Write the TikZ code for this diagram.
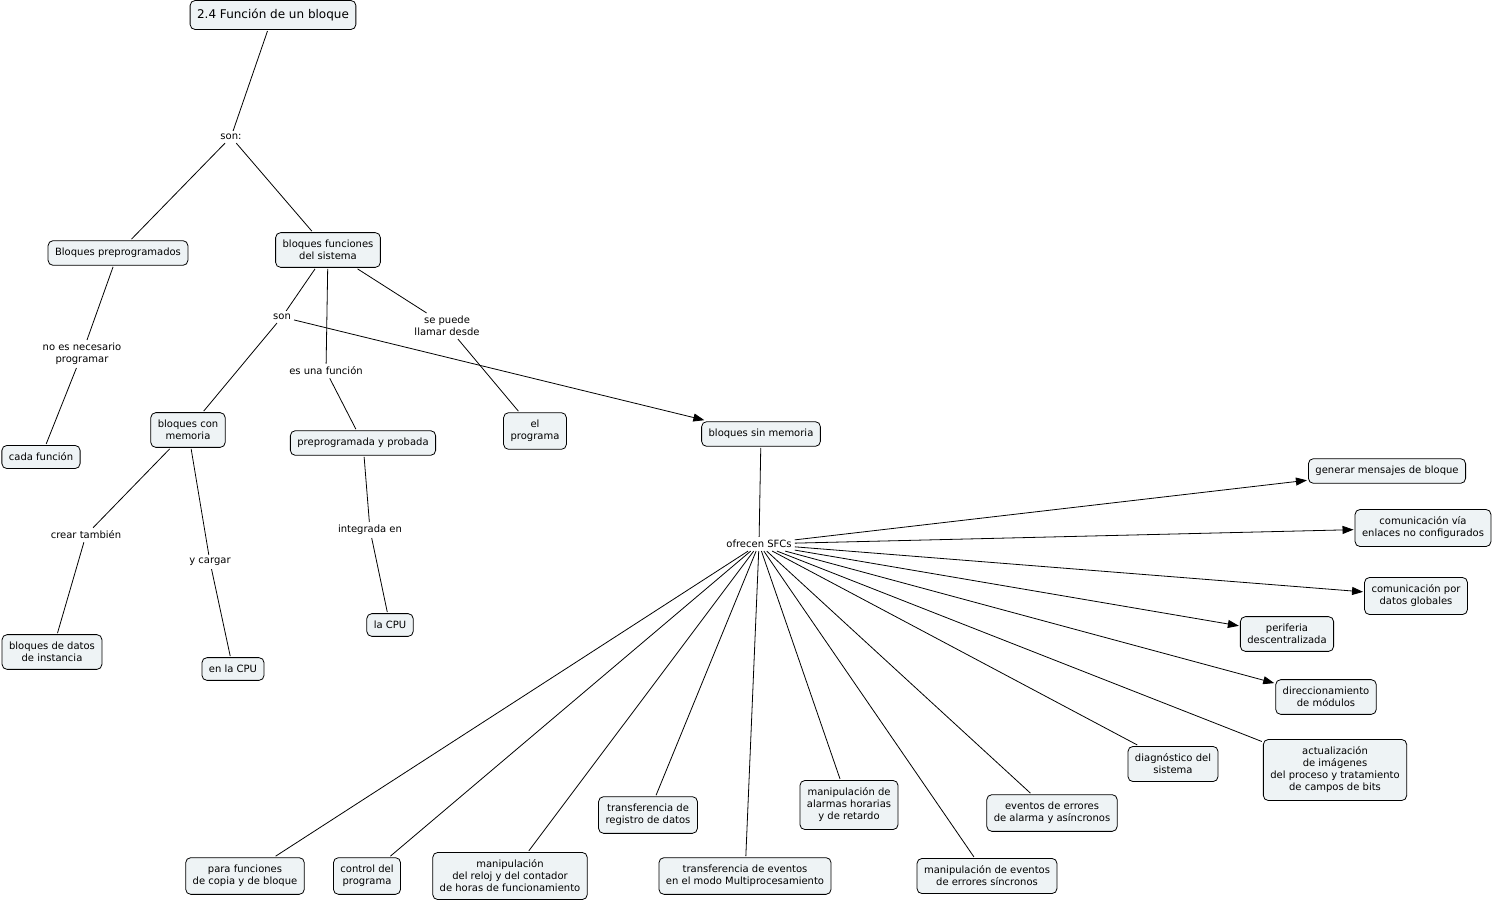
\documentclass[tikz,border=0pt]{standalone}
\usepackage{fontspec}
\setmainfont{DejaVu Sans}
\usetikzlibrary{arrows.meta}
\definecolor{boxfill}{RGB}{238,243,245}
\begin{document}
\begin{tikzpicture}[x=1pt,y=-1pt,
  concept/.style={draw, rounded corners=5pt, fill=boxfill, align=center,
    inner xsep=7pt, inner ysep=7.5pt, outer sep=1.5pt, line width=0.8pt,
    font=\fontsize{10}{12}\selectfont},
  lab/.style={align=center, inner sep=3pt, font=\fontsize{10}{12}\selectfont},
  link/.style={line width=0.8pt},
  arr/.style={line width=0.8pt, -{Triangle[length=11pt,width=8pt]}}]
\useasboundingbox (0,0) rectangle (1494,903);
% concepts
\node[concept, font=\fontsize{12}{14}\selectfont, minimum height=29pt] (t) at (273,15) {2.4 Función de un bloque};
\node[concept] (bp) at (118,253) {Bloques preprogramados};
\node[concept] (bfs) at (328,250) {bloques funciones\\del sistema};
\node[concept] (cf) at (41,457) {cada función};
\node[concept] (bcm) at (188,430) {bloques con\\memoria};
\node[concept] (pp) at (363,443) {preprogramada y probada};
\node[concept] (ep) at (535,431) {el\\programa};
\node[concept] (bsm) at (761,434) {bloques sin memoria};
\node[concept] (bdi) at (52,652) {bloques de datos\\de instancia};
\node[concept] (elc) at (233,669) {en la CPU};
\node[concept] (lac) at (390,625) {la CPU};
\node[concept] (gm) at (1387,471) {generar mensajes de bloque};
\node[concept] (cv) at (1423,528) {comunicación vía\\enlaces no configurados};
\node[concept] (cp) at (1416,596) {comunicación por\\datos globales};
\node[concept] (pd) at (1287,634) {periferia\\descentralizada};
\node[concept] (dm) at (1326,697) {direccionamiento\\de módulos};
\node[concept] (ai) at (1335,770) {actualización\\de imágenes\\del proceso y tratamiento\\de campos de bits};
\node[concept] (ds) at (1173,764) {diagnóstico del\\sistema};
\node[concept] (ee) at (1052,813) {eventos de errores\\de alarma y asíncronos};
\node[concept] (me) at (987,876) {manipulación de eventos\\de errores síncronos};
\node[concept] (ma) at (849,805) {manipulación de\\alarmas horarias\\y de retardo};
\node[concept] (te) at (745,876) {transferencia de eventos\\en el modo Multiprocesamiento};
\node[concept] (tr) at (648,815) {transferencia de\\registro de datos};
\node[concept] (mr) at (510,876) {manipulación\\del reloj y del contador\\de horas de funcionamiento};
\node[concept] (cdp) at (367,876) {control del\\programa};
\node[concept] (pf) at (245,876) {para funciones\\de copia y de bloque};
% labels
\node[lab] (l1) at (231,137) {son:};
\node[lab] (l2) at (82,354) {no es necesario\\programar};
\node[lab] (l3) at (282,317) {son};
\node[lab] (l4) at (326,371) {es una función};
\node[lab] (l5) at (447,326) {se puede\\llamar desde};
\node[lab] (l6) at (86,535) {crear también};
\node[lab] (l7) at (210,562) {y cargar};
\node[lab] (l8) at (370,530) {integrada en};
\node[lab] (l9) at (759,544) {ofrecen SFCs};
% links
\draw[link] (t) -- (l1);
\draw[link] (l1) -- (bp);
\draw[link] (l1) -- (bfs);
\draw[link] (bp) -- (l2);
\draw[link] (l2) -- (cf);
\draw[link] (bfs) -- (l3);
\draw[link] (l3) -- (bcm);
\draw[arr] (l3) -- (bsm);
\draw[link] (bfs) -- (l4);
\draw[link] (l4) -- (pp);
\draw[link] (bfs) -- (l5);
\draw[link] (l5) -- (ep);
\draw[link] (bcm) -- (l6);
\draw[link] (l6) -- (bdi);
\draw[link] (bcm) -- (l7);
\draw[link] (l7) -- (elc);
\draw[link] (pp) -- (l8);
\draw[link] (l8) -- (lac);
\draw[link] (bsm) -- (l9);
\draw[arr] (l9) -- (gm);
\draw[arr] (l9) -- (cv);
\draw[arr] (l9) -- (cp);
\draw[arr] (l9) -- (pd);
\draw[arr] (l9) -- (dm);
\draw[link] (l9) -- (ai);
\draw[link] (l9) -- (ds);
\draw[link] (l9) -- (ee);
\draw[link] (l9) -- (me);
\draw[link] (l9) -- (ma);
\draw[link] (l9) -- (te);
\draw[link] (l9) -- (tr);
\draw[link] (l9) -- (mr);
\draw[link] (l9) -- (cdp);
\draw[link] (l9) -- (pf);
\end{tikzpicture}
\end{document}
